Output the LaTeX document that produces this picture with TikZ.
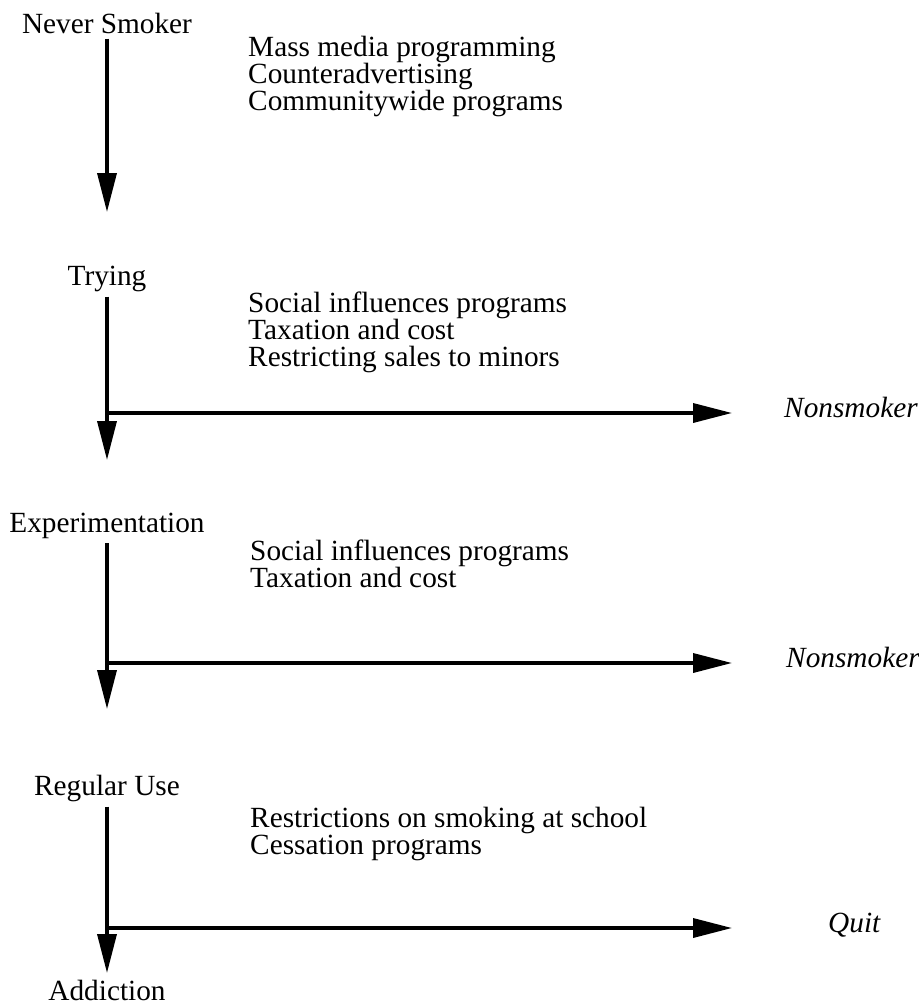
\documentclass[tikz,border=0pt]{standalone}
\usepackage{fontspec}
\setmainfont{Liberation Serif}
\usetikzlibrary{arrows.meta, positioning}

\begin{document}
\begin{tikzpicture}[x=0.03cm, y=-0.03cm, inner sep=0pt,
  stage/.style={anchor=base, font=\fontsize{25}{23}\selectfont},
  means/.style={anchor=north west, align=left, font=\fontsize{25}{23}\selectfont},
  outcome/.style={anchor=base west, font=\fontsize{25}{23}\selectfont\itshape},
  flow/.style={line width=3pt, -{Triangle[length=1.17cm, width=0.57cm]}, shorten <=0.15cm}]

\useasboundingbox (0,0) rectangle (918,1006);

  % stages down the left
  \node[stage] (never) at (107,33)   {Never Smoker};
  \node[stage] (try)   at (107,285)  {Trying};
  \node[stage] (exper) at (107,532)  {Experimentation};
  \node[stage] (reg)   at (107,795)  {Regular Use};
  \node[stage] (addict) at (107,1000) {Addiction};

  % programs at each stage
  \node[means] (m1) at (248,36)  {Mass media programming\\Counteradvertising\\Communitywide programs};
  \node[means] (m2) at (248,292) {Social influences programs\\Taxation and cost\\Restricting sales to minors};
  \node[means] (m3) at (250,540) {Social influences programs\\Taxation and cost};
  \node[means] (m4) at (250,807) {Restrictions on smoking at school\\Cessation programs};

  % ways out
  \node[outcome] (out1) at (784,417) {Nonsmoker};
  \node[outcome] (out2) at (786,667) {Nonsmoker};
  \node[outcome] (out3) at (828,932) {Quit};

  \coordinate (tip1) at (107,212);
  \coordinate (tip2) at (107,460);
  \coordinate (tip3) at (107,709);
  \coordinate (tip4) at (107,973);
  \coordinate (j2) at (107,413);
  \coordinate (j3) at (107,663);
  \coordinate (j4) at (107,928);

  \path (never) edge [flow] (tip1)
        (try)   edge [flow] (tip2)
        (exper) edge [flow] (tip3)
        (reg)   edge [flow] (tip4);

  \draw[flow, shorten <=0pt, shorten >=1.56cm] (j2) -- (j2 -| out1.west);
  \draw[flow, shorten <=0pt, shorten >=1.62cm] (j3) -- (j3 -| out2.west);
  \draw[flow, shorten <=0pt, shorten >=2.88cm] (j4) -- (j4 -| out3.west);

\end{tikzpicture}
\end{document}
